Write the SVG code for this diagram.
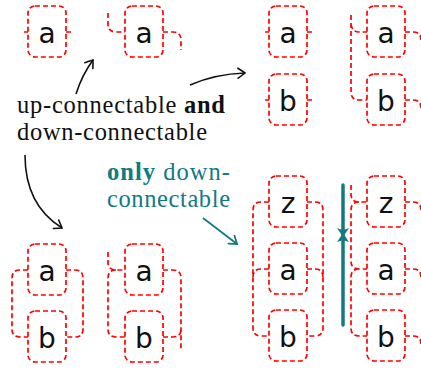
<svg xmlns="http://www.w3.org/2000/svg" width="421" height="370" viewBox="0 0 421 370">
<defs>
<style>
.bx{fill:none;stroke:#ff0000;stroke-width:1.7;stroke-dasharray:5 3}
.w{fill:none;stroke:#ff0000;stroke-width:1.7;stroke-dasharray:5 3}
.lb{font-family:"DejaVu Sans",sans-serif;font-size:28px;fill:#111;text-anchor:middle}
.tx{font-family:"Liberation Serif",serif;font-size:24.5px;fill:#111}
.tt{font-family:"Liberation Serif",serif;font-size:24.5px;fill:#127a82}
.ar{fill:none;stroke:#111;stroke-width:1.6}
.at{fill:none;stroke:#127a82;stroke-width:1.8}
</style>
<marker id="mk" viewBox="-8 -6 10 12" markerWidth="10" markerHeight="12" refX="0" refY="0" orient="auto" markerUnits="userSpaceOnUse">
<path d="M-7 -5 Q-2 -1.5 0 0 Q-2 1.5 -7 5" fill="none" stroke="#111" stroke-width="1.6" stroke-linecap="round"/>
</marker>
<marker id="mkt" viewBox="-8 -6 10 12" markerWidth="10" markerHeight="12" refX="0" refY="0" orient="auto" markerUnits="userSpaceOnUse">
<path d="M-7 -5 Q-2 -1.5 0 0 Q-2 1.5 -7 5" fill="none" stroke="#127a82" stroke-width="1.8" stroke-linecap="round"/>
</marker>
</defs>

<g id="n1">
<rect class="bx" x="28" y="6" width="38" height="51" rx="7"/>
<path class="w" d="M24 32 H28 M66 32 H72"/>
<text class="lb" x="47" y="43">a</text>
</g>

<g id="n2">
<rect class="bx" x="125" y="6" width="38" height="51" rx="7"/>
<path class="w" d="M108 13 V24 Q108 32 116 32 H125 M163 32 H173 Q181 32 181 40 V50"/>
<text class="lb" x="144" y="43">a</text>
</g>

<g id="n3">
<rect class="bx" x="269" y="6" width="38" height="51" rx="7"/>
<rect class="bx" x="269" y="74" width="38" height="51" rx="7"/>
<path class="w" d="M265 32 H269 M307 32 H312 M265 100 H269 M307 100 H312"/>
<text class="lb" x="288" y="43">a</text>
<text class="lb" x="288" y="111">b</text>
</g>

<g id="n4">
<rect class="bx" x="367" y="6" width="38" height="51" rx="7"/>
<rect class="bx" x="367" y="74" width="38" height="51" rx="7"/>
<path class="w" d="M351 15 V92 Q351 100 359 100 H367 M351 24 Q352 32 359 32 H367 M405 32 H413 Q421 32 421 40 M405 100 H413 Q421 100 421 108"/>
<text class="lb" x="386" y="43">a</text>
<text class="lb" x="386" y="111">b</text>
</g>

<g id="n5">
<rect class="bx" x="28" y="244" width="38" height="51" rx="7"/>
<rect class="bx" x="28" y="311" width="38" height="51" rx="7"/>
<path class="w" d="M28 270 H20 Q12 270 12 278 V329 Q12 337 20 337 H28 M66 270 H75 Q83 270 83 278 V329 Q83 337 75 337 H66"/>
<text class="lb" x="47" y="281">a</text>
<text class="lb" x="47" y="348">b</text>
</g>

<g id="n6">
<rect class="bx" x="125" y="244" width="38" height="51" rx="7"/>
<rect class="bx" x="125" y="311" width="38" height="51" rx="7"/>
<path class="w" d="M108 252 V262 Q108 270 116 270 H125 M116 270 Q108 270 108 278 V329 Q108 337 116 337 H125 M163 270 H173 Q181 270 181 278 V350 M163 337 H173 Q181 337 181 329"/>
<text class="lb" x="144" y="281">a</text>
<text class="lb" x="144" y="348">b</text>
</g>

<g id="n7">
<rect class="bx" x="269" y="176" width="38" height="51" rx="7"/>
<rect class="bx" x="269" y="243" width="38" height="51" rx="7"/>
<rect class="bx" x="269" y="310" width="38" height="51" rx="7"/>
<path class="w" d="M269 202 H261 Q253 202 253 210 V328 Q253 336 261 336 H269 M269 269 H261 Q253 269 253 277 M307 202 H315 Q323 202 323 210 V328 Q323 336 315 336 H307 M307 269 H315 Q323 269 323 277"/>
<text class="lb" x="288" y="213">z</text>
<text class="lb" x="288" y="280">a</text>
<text class="lb" x="288" y="347">b</text>
</g>

<g id="n8">
<rect class="bx" x="367" y="176" width="38" height="51" rx="7"/>
<rect class="bx" x="367" y="243" width="38" height="51" rx="7"/>
<rect class="bx" x="367" y="310" width="38" height="51" rx="7"/>
<path class="w" d="M351 185 V194 Q351 202 359 202 H367 M359 202 Q351 202 351 210 V261 Q351 269 359 269 H367 M359 269 Q351 269 351 277 V328 Q351 336 359 336 H367 M405 202 H413 Q421 202 421 210 M405 269 H413 Q421 269 421 277 M405 336 H413 Q421 336 421 344"/>
<text class="lb" x="386" y="213">z</text>
<text class="lb" x="386" y="280">a</text>
<text class="lb" x="386" y="347">b</text>
</g>

<g id="labels">
<text class="tx" x="17" y="113" textLength="208" lengthAdjust="spacing">up-connectable <tspan font-weight="bold">and</tspan></text>
<text class="tx" x="17" y="140" textLength="190" lengthAdjust="spacing">down-connectable</text>
<text class="tt" x="107" y="180" textLength="123" lengthAdjust="spacing"><tspan font-weight="bold">only</tspan> down-</text>
<text class="tt" x="107" y="207" textLength="123" lengthAdjust="spacing">connectable</text>
</g>

<g id="connectors">
<path class="ar" d="M76 94 Q82 75 93 60" marker-end="url(#mk)"/>
<path class="ar" d="M190 85 Q215 74 245 73" marker-end="url(#mk)"/>
<path class="ar" d="M25 155 Q25 205 62 228" marker-end="url(#mk)"/>
<path class="at" d="M203 218 L237 244" marker-end="url(#mkt)"/>
<path d="M343 185 V325" stroke="#127a82" stroke-width="3.5" fill="none" stroke-linecap="round"/>
<path d="M343 237 L337 228 Q343 231 349 228 Z" fill="#127a82"/>
<path d="M343 233 L349 242 Q343 239 337 242 Z" fill="#127a82"/>
</g>
</svg>
